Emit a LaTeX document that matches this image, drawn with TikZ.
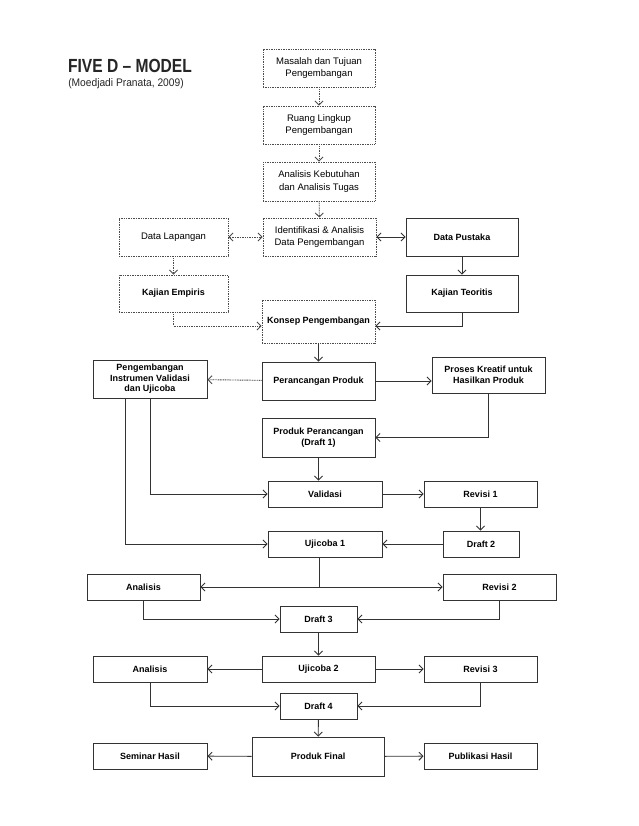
\documentclass[tikz,border=0pt]{standalone}
\usepackage{fontspec}
\setmainfont{Liberation Sans}
\usetikzlibrary{arrows.meta}
\definecolor{lineC}{gray}{0.2}
\definecolor{dotC}{gray}{0.3}
\tikzset{
  box/.style={draw=lineC, line width=0.9pt, inner sep=1pt, align=center,
    font=\fontsize{9}{11.5}\selectfont\bfseries, text=black},
  nbox/.style={box, font=\fontsize{9.5}{12.5}\selectfont},
  dbox/.style={nbox, draw=dotC, dash pattern=on 1pt off 0.7pt},
  dboxb/.style={box, draw=dotC, dash pattern=on 1pt off 0.7pt},
  conn/.style={draw=lineC, line width=0.9pt, -{Straight Barb[length=4pt,width=8pt]}},
  dconn/.style={conn, draw=dotC, dash pattern=on 1pt off 0.7pt},
  bconn/.style={conn, {Straight Barb[length=4pt,width=8pt]}-{Straight Barb[length=4pt,width=8pt]}},
  dbconn/.style={dconn, {Straight Barb[length=4pt,width=8pt]}-{Straight Barb[length=4pt,width=8pt]}},
  line/.style={draw=lineC, line width=0.9pt}
}
\begin{document}
\begin{tikzpicture}[x=1pt,y=-1pt]
\useasboundingbox[fill=white] (0,0) rectangle (638,826);
% title
\node[font=\fontsize{19}{20}\selectfont\bfseries, text=black!85, inner sep=0, xscale=0.82] (title) at (130,66) {FIVE D – MODEL};
\node[font=\fontsize{11}{12}\selectfont, text=black!85, inner sep=0, xscale=0.93] (sub) at (126,84) {(Moedjadi Pranata, 2009)};
% boxes
\node[dbox, minimum width=112pt, minimum height=38pt] (m1) at (319,68) {Masalah dan Tujuan\\Pengembangan};
\node[dbox, minimum width=112pt, minimum height=38pt] (m2) at (319,125) {Ruang Lingkup\\Pengembangan};
\node[dbox, minimum width=112pt, minimum height=39pt] (m3) at (319,181.5) {Analisis Kebutuhan\\dan Analisis Tugas};
\node[dbox, minimum width=113pt, minimum height=38pt] (idf) at (319.5,237) {Identifikasi \& Analisis\\Data Pengembangan};
\node[dbox, minimum width=109pt, minimum height=38pt] (dl) at (173.5,237) {Data Lapangan};
\node[box, minimum width=112pt, minimum height=38pt] (dp) at (462,237) {Data Pustaka};
\node[dboxb, minimum width=109pt, minimum height=37pt] (ke) at (173.5,293.5) {Kajian Empiris};
\node[box, minimum width=112pt, minimum height=37pt] (kt) at (462,293.5) {Kajian Teoritis};
\node[dboxb, minimum width=113pt, minimum height=43pt] (kp) at (318.5,321.5) {Konsep Pengembangan};
\node[box, minimum width=113pt, minimum height=38pt] (pp) at (318.5,381) {Perancangan Produk};
\node[box, minimum width=114pt, minimum height=38pt, inner sep=0pt, font=\fontsize{9}{10.5}\selectfont\bfseries] (pi) at (150,379) {Pengembangan\\Instrumen Validasi\\dan Ujicoba};
\node[box, minimum width=113pt, minimum height=36pt] (pk) at (488.5,375) {Proses Kreatif untuk\\Hasilkan Produk};
\node[box, minimum width=113pt, minimum height=39pt] (pd) at (318.5,437.5) {Produk Perancangan\\(Draft 1)};
\node[box, minimum width=114pt, minimum height=26pt] (va) at (325,494) {Validasi};
\node[box, minimum width=113pt, minimum height=26pt] (r1) at (480.5,494) {Revisi 1};
\node[box, minimum width=76pt, minimum height=26pt] (d2) at (481,544) {Draft 2};
\node[box, minimum width=114pt, minimum height=26pt] (u1) at (325,544) {Ujicoba 1};
\coordinate (j1) at (319,587);
\node[box, minimum width=113pt, minimum height=26pt] (an1) at (143.5,587) {Analisis};
\node[box, minimum width=113pt, minimum height=26pt] (r2) at (499.5,587) {Revisi 2};
\node[box, minimum width=77pt, minimum height=26pt] (d3) at (318.5,619) {Draft 3};
\node[box, minimum width=113pt, minimum height=26pt] (u2) at (318.5,669) {Ujicoba 2};
\node[box, minimum width=114pt, minimum height=26pt] (an2) at (150,669) {Analisis};
\node[box, minimum width=113pt, minimum height=26pt] (r3) at (480.5,669) {Revisi 3};
\node[box, minimum width=77pt, minimum height=26pt] (d4) at (318.5,706) {Draft 4};
\node[box, minimum width=132pt, minimum height=39pt] (pf) at (318,756.5) {Produk Final};
\node[box, minimum width=114pt, minimum height=26pt] (sh) at (150,756) {Seminar Hasil};
\node[box, minimum width=113pt, minimum height=26pt] (ph) at (480.5,756) {Publikasi Hasil};
% connectors
\draw[dconn] (m1) -- (m2);
\draw[dconn] (m2) -- (m3);
\draw[dconn] (m3) -- (idf);
\draw[dbconn] (idf) -- (dl);
\draw[bconn] (idf) -- (dp);
\draw[dconn] (dl) -- (ke);
\draw[conn] (dp) -- (kt);
\draw[dconn] (ke.south) |- ([yshift=-4.5pt]kp.west);
\draw[conn] (kt.south) |- ([yshift=-4.5pt]kp.east);
\draw[conn] (kp) -- (pp);
\draw[dconn] (pp) -- (pi);
\draw[conn] (pp.east) -- (pp.east -| pk.west);
\draw[conn] (pk.south) |- (pd.east);
\draw[conn] (pd.south) -- (pd.south |- va.north);
\draw[conn] (pi.south) |- (va.west);
\draw[conn] ([xshift=-25pt]pi.south) |- (u1.west);
\draw[conn] (va) -- (r1);
\draw[conn] (r1.south) -- (r1.south |- d2.north);
\draw[conn] (d2) -- (u1);
\draw[line] (u1.south -| j1) -- (j1);
\draw[conn] (j1) -- (an1.east);
\draw[conn] (j1) -- (r2.west);
\draw[conn] (an1.south) |- (d3.west);
\draw[conn] (r2.south) |- (d3.east);
\draw[conn] (d3) -- (u2);
\draw[conn] (u2) -- (an2);
\draw[conn] (u2) -- (r3);
\draw[conn] (an2.south) |- (d4.west);
\draw[conn] (r3.south) |- (d4.east);
\draw[conn] (d4) -- (pf);
\draw[conn] (pf) -- (sh);
\draw[conn] (pf) -- (ph);
\end{tikzpicture}
\end{document}
